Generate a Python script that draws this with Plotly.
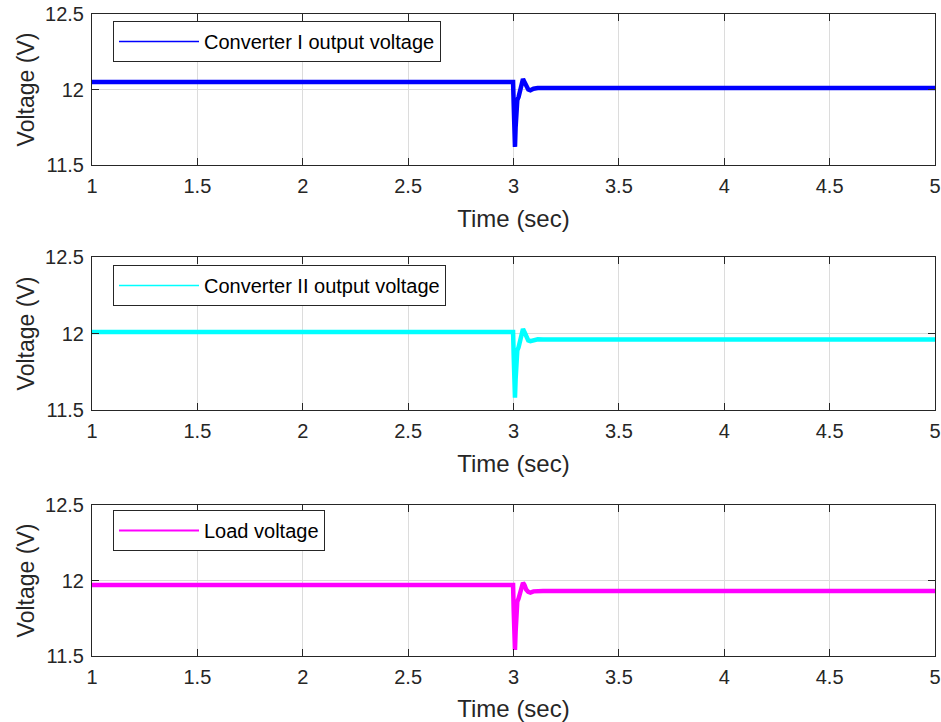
import plotly.graph_objects as go

# Time samples (sec)
time_s = [1.0, 2.998, 3.001, 3.004, 3.007, 3.010, 3.014, 3.018, 3.024, 3.030, 3.037, 3.045,
          3.052, 3.060, 3.070, 3.080, 3.095, 3.115, 3.140, 5.0]

conv1_v = [12.05, 12.05, 11.90, 11.72, 11.62, 11.75, 11.88, 11.93, 11.95, 11.99, 12.04, 12.07,
           12.05, 12.02, 12.00, 11.995, 12.005, 12.01, 12.01, 12.01]
conv2_v = [12.01, 12.01, 11.85, 11.66, 11.58, 11.70, 11.84, 11.89, 11.91, 11.95, 12.00, 12.03,
           12.01, 11.98, 11.955, 11.95, 11.958, 11.962, 11.96, 11.96]
load_v = [11.97, 11.97, 11.80, 11.61, 11.54, 11.66, 11.81, 11.86, 11.88, 11.92, 11.96, 11.985,
          11.97, 11.94, 11.925, 11.92, 11.928, 11.932, 11.93, 11.93]

series_names = ["Converter I output voltage", "Converter II output voltage", "Load voltage"]
series_values = [conv1_v, conv2_v, load_v]
colors = ["#0000ff", "#00ffff", "#ff00ff"]
legend_line_w = [1.3, 1.5, 2]

x_ticks = [1, 1.5, 2, 2.5, 3, 3.5, 4, 4.5, 5]
x_tick_labels = ["1", "1.5", "2", "2.5", "3", "3.5", "4", "4.5", "5"]
y_ticks = [11.5, 12, 12.5]
y_tick_labels = ["11.5", "12", "12.5"]

W, H = 941, 722
ml, mr, mt, mb = 92, 6, 14, 66
ph = H - mt - mb
def fy(y):
    return (H - mb - y) / ph

domains = [[fy(165), fy(14)], [fy(410), fy(257)], [0.0, fy(505)]]
legend_tops = [fy(21), fy(265), fy(510)]

fig = go.Figure()
axcol = "#262626"
font = "Liberation Sans, Arial, sans-serif"

for i in range(3):
    xa = "x" if i == 0 else f"x{i+1}"
    ya = "y" if i == 0 else f"y{i+1}"
    lg = "legend" if i == 0 else f"legend{i+1}"
    fig.add_trace(go.Scatter(x=time_s, y=series_values[i], mode="lines",
                             line=dict(color=colors[i], width=4.5),
                             xaxis=xa, yaxis=ya, showlegend=False, hoverinfo="skip"))
    fig.add_trace(go.Scatter(x=[None], y=[None], mode="lines", name=series_names[i],
                             line=dict(color=colors[i], width=legend_line_w[i]),
                             xaxis=xa, yaxis=ya, showlegend=True, legend=lg))

    axkw = dict(showline=True, linecolor=axcol, linewidth=1, mirror="ticks",
                ticks="inside", ticklen=7, tickcolor=axcol, tickwidth=1,
                showgrid=True, gridcolor="#dcdcdc", gridwidth=1, zeroline=False,
                automargin=False, ticklabelstandoff=3,
                tickfont=dict(family=font, size=20, color=axcol))
    xkey = "xaxis" if i == 0 else f"xaxis{i+1}"
    ykey = "yaxis" if i == 0 else f"yaxis{i+1}"
    fig.layout[xkey] = dict(domain=[0, 1], anchor=ya, range=[1, 5],
                            tickvals=x_ticks, ticktext=x_tick_labels,
                            title=dict(text="Time (sec)", font=dict(family=font, size=24, color=axcol), standoff=14),
                            **axkw)
    fig.layout[ykey] = dict(domain=domains[i], anchor=xa, range=[11.5, 12.5],
                            tickvals=y_ticks, ticktext=y_tick_labels,
                            title=dict(text="Voltage (V)", font=dict(family=font, size=23, color=axcol), standoff=4),
                            **axkw)
    fig.layout[lg] = dict(x=(113 - ml) / (W - ml - mr), y=legend_tops[i], xanchor="left", yanchor="top",
                          xref="paper", yref="paper",
                          bgcolor="white", bordercolor=axcol, borderwidth=1,
                          font=dict(family=font, size=20, color="black"), itemwidth=80,
                          tracegroupgap=0)

fig.update_layout(width=W, height=H, margin=dict(l=ml, r=mr, t=mt, b=mb),
                  plot_bgcolor="white", paper_bgcolor="white")

fig.write_html("out.html")
